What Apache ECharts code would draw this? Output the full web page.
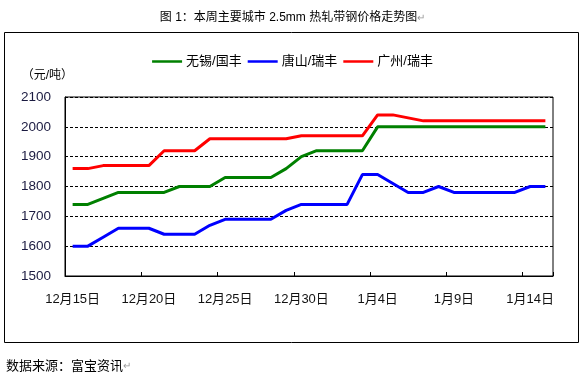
<!DOCTYPE html>
<html><head><meta charset="utf-8">
<script src="https://cdn.jsdelivr.net/npm/echarts@6/dist/echarts.min.js"></script>
<style>html,body{margin:0;padding:0;background:#fff}#c{width:585px;height:373px}</style>
</head><body><div id="c"></div>
<script>
const categories = ['12月15日','12月16日','12月17日','12月18日','12月19日','12月20日','12月21日','12月22日','12月23日','12月24日','12月25日','12月26日','12月27日','12月28日','12月29日','12月30日','12月31日','1月1日','1月2日','1月3日','1月4日','1月5日','1月6日','1月7日','1月8日','1月9日','1月10日','1月11日','1月12日','1月13日','1月14日','1月15日'];
const wuxi = [1740,1740,1760,1780,1780,1780,1780,1800,1800,1800,1830,1830,1830,1830,1860,1900,1920,1920,1920,1920,2000,2000,2000,2000,2000,2000,2000,2000,2000,2000,2000,2000];
const tangshan = [1600,1600,1630,1660,1660,1660,1640,1640,1640,1670,1690,1690,1690,1690,1720,1740,1740,1740,1740,1840,1840,1810,1780,1780,1800,1780,1780,1780,1780,1780,1800,1800];
const guangzhou = [1860,1860,1870,1870,1870,1870,1920,1920,1920,1960,1960,1960,1960,1960,1960,1970,1970,1970,1970,1970,2040,2040,2030,2020,2020,2020,2020,2020,2020,2020,2020,2020];
const seriesNames = ['无锡/国丰','唐山/瑞丰','广州/瑞丰'];
const yTicks = {min:1500, max:2100, interval:100};

const FONT = '"Liberation Sans","Noto Sans CJK SC",sans-serif';
const chart = echarts.init(document.getElementById('c'), null, {renderer:'canvas'});
const mk = (name, data, color) => ({
  name, type:'line', data, symbol:'none', smooth:false,
  lineStyle:{color, width:3}, itemStyle:{color}
});
chart.setOption({
  animation:false,
  backgroundColor:'#fff',
  title:[
    {text:'图 1：本周主要城市 2.5mm 热轧带钢价格走势图{g|↵}', left:'center', top:7,
     textStyle:{fontSize:12, fontWeight:'normal', color:'#000', fontFamily:FONT,
       rich:{g:{color:'#999', fontSize:10, fontFamily:FONT}}}},
    {text:'数据来源：富宝资讯{g|↵}', left:1, top:355,
     textStyle:{fontSize:13, fontWeight:'normal', color:'#000', fontFamily:FONT,
       rich:{g:{color:'#999', fontSize:10, fontFamily:FONT}}}}
  ],
  graphic:[{type:'rect', shape:{x:4.5,y:32.5,width:574,height:310}, style:{fill:null, stroke:'#000', lineWidth:1}, silent:true, z:-1}],
  legend:{
    data:seriesNames, top:50, left:'center', itemWidth:30, itemHeight:2.5, itemGap:6,
    icon:'rect',
    textStyle:{fontSize:13, color:'#000', fontFamily:FONT, padding:[0,0,0,-1]}
  },
  grid:{left:65, right:32, top:97, bottom:97, show:true, borderColor:'#000', borderWidth:1, backgroundColor:'transparent'},
  xAxis:{
    type:'category', data:categories, boundaryGap:true,
    axisLine:{lineStyle:{color:'#000', width:1}},
    axisTick:{show:true, inside:true, length:4, interval:4, lineStyle:{color:'#000'}},
    axisLabel:{interval:4, margin:17, fontSize:13, color:'#111', fontFamily:FONT}
  },
  yAxis:{
    type:'value', min:yTicks.min, max:yTicks.max, interval:yTicks.interval,
    name:'（元/吨）', nameLocation:'end', nameGap:15,
    nameTextStyle:{fontSize:12, color:'#000', fontFamily:FONT, align:'right', padding:[0,-8,0,0]},
    axisLine:{show:true, lineStyle:{color:'#000'}},
    axisTick:{show:false},
    axisLabel:{margin:14, fontSize:13.5, color:'#1a1a40', fontFamily:FONT, formatter:v => String(v)},
    splitLine:{show:true, lineStyle:{color:'#000', type:[3,2], width:1}}
  },
  series:[mk(seriesNames[0], wuxi, '#008000'), mk(seriesNames[1], tangshan, '#0000ff'), mk(seriesNames[2], guangzhou, '#ff0000')]
});
</script></body></html>
